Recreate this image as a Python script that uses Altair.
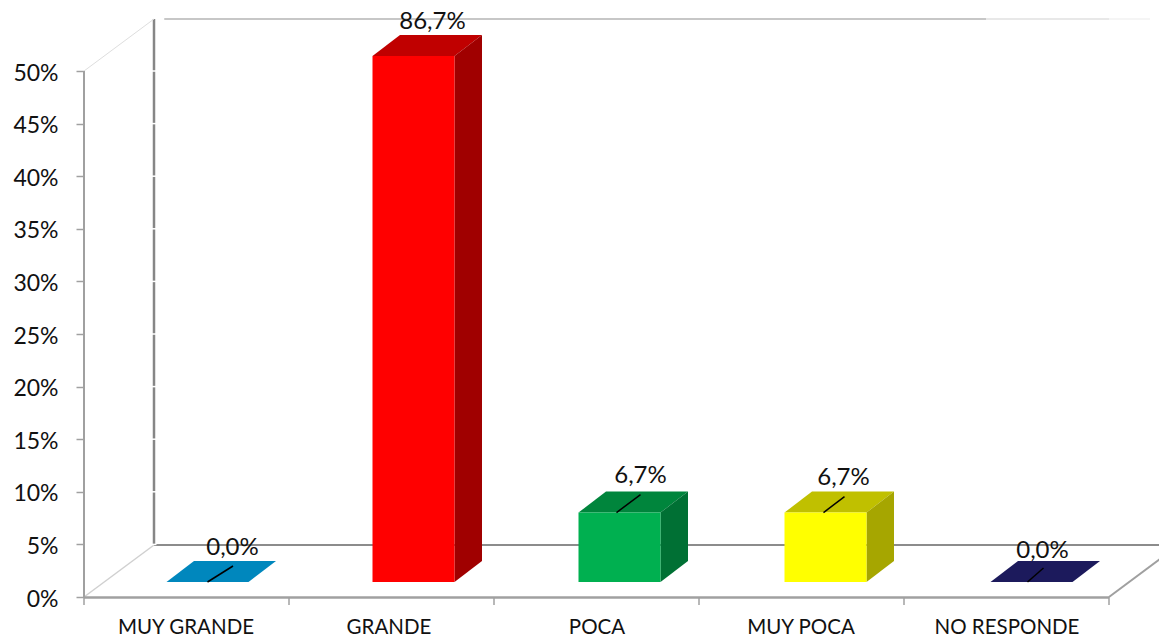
import altair as alt
import pandas as pd

# ---- data ----
categories = ["MUY GRANDE", "GRANDE", "POCA", "MUY POCA", "NO RESPONDE"]
label_values = [0.0, 86.7, 6.7, 6.7, 0.0]
drawn_heights = [0.0, 50.0, 6.6, 6.6, 0.0]   # bars are cut off at the axis maximum
y_ticks = [0, 5, 10, 15, 20, 25, 30, 35, 40, 45, 50]
front_colors = ["#0087BD", "#FF0000", "#00B050", "#FFFF00", "#1C1A5C"]
top_colors = ["#0087BD", "#C00000", "#00853C", "#C0C000", "#1C1A5C"]
side_colors = ["#0087BD", "#A00000", "#007034", "#A6A600", "#1C1A5C"]

# ---- layout ----
W, H = 1151, 630
PX_U, PX_Y = 205.0, 10.52
X0, Y0 = 84.0 - 8, 597.0 - 8
U_MIN, U_MAX = -X0 / PX_U, (W - X0) / PX_U
Y_MAX, Y_MIN = Y0 / PX_Y, (Y0 - H) / PX_Y
WALL_U, WALL_Y = 70 / PX_U, 52 / PX_Y
DEPTH_U, DEPTH_Y = 27.5 / PX_U, 21 / PX_Y
BAR_W, BAR_PITCH, BAR_START, BAR_BASE = 82 / PX_U, 206 / PX_U, 82.5 / PX_U, 15 / PX_Y
# label nudges in px, relative to the bar's front-top centre
label_dx = [25, 19, 21, 18, 11]
label_dy = [34, 34, 37, 35, 31]
leader_start = [0, None, -3, -2, -4]
leader_dx = [25.5, None, 24, 21, 16]
leader_dy = [16, None, 18, 16, 14]
# category label nudges in px
cat_nudge = [-1, -3, 0, -1, 0]

xs = alt.Scale(domain=[U_MIN, U_MAX], nice=False, zero=False)
ys = alt.Scale(domain=[Y_MIN, Y_MAX], nice=False, zero=False)
X = lambda f, **k: alt.X(f, type="quantitative", scale=xs, title=None, **k)
Y = lambda f, **k: alt.Y(f, type="quantitative", scale=ys, title=None, **k)

# ---- frame ----
seg = []
def add(u1, y1, u2, y2, c, w):
    seg.append(dict(u=u1, y=y1, u2=u2, y2=y2, c=c, w=w))

add(WALL_U, WALL_Y, WALL_U, 50 + WALL_Y, "#868686", 2.5)
add(WALL_U, WALL_Y, U_MAX, WALL_Y, "#8C8C8C", 2)
add(WALL_U + 0.05, 50 + WALL_Y, 4.4, 50 + WALL_Y, "#B4B4B4", 1.5)
add(4.4, 50 + WALL_Y, 5.0, 50 + WALL_Y, "#E0E0E0", 1.5)
add(5.0, 50 + WALL_Y, 5.2, 50 + WALL_Y, "#F2F2F2", 1.5)
add(0, 50, WALL_U, 50 + WALL_Y, "#DEDEDE", 1)
add(0, 0, WALL_U, WALL_Y, "#D0D0D0", 1.5)
for t in y_ticks:
    add(WALL_U - 0.012, t, WALL_U + 0.012, t, "#FFFFFF", 1.5)
add(0, 0, 0, 50, "#A0A0A0", 2)
add(0, -0.05, 5, -0.05, "#A0A0A0", 2.5)
add(5, 0, 5 + WALL_U, WALL_Y, "#A0A0A0", 2)
for i in range(6):
    add(i, 0, i, -0.75, "#A0A0A0", 1.5)
seg_df = pd.DataFrame(seg)

frame = alt.Chart(seg_df).mark_rule().encode(
    x=X("u"), x2=alt.X2("u2"), y=Y("y"), y2=alt.Y2("y2"),
    color=alt.Color("c:N", scale=None),
    strokeWidth=alt.StrokeWidth("w:Q", scale=None),
)

# ---- bars ----
front, top, side, labels, leaders = [], [], [], [], []
for i, (cat, v, h) in enumerate(zip(categories, label_values, drawn_heights)):
    l = BAR_START + i * BAR_PITCH
    r = l + BAR_W
    b = BAR_BASE
    t = b + h
    front.append(dict(cat=cat, l=l, r=r, b=b, t=t, c=front_colors[i]))
    top.append(dict(cat=cat, y=t, l=l, r=r, c=top_colors[i]))
    top.append(dict(cat=cat, y=t + DEPTH_Y, l=l + DEPTH_U, r=r + DEPTH_U, c=top_colors[i]))
    if h > 0:
        side.append(dict(cat=cat, u=r, b=b, t=t, c=side_colors[i]))
        side.append(dict(cat=cat, u=r + DEPTH_U, b=b + DEPTH_Y, t=t + DEPTH_Y, c=side_colors[i]))
    cx = (l + r) / 2
    labels.append(dict(u=cx + label_dx[i] / PX_U, y=t + label_dy[i] / PX_Y,
                       txt=f"{v:.1f}%".replace(".", ",")))
    if leader_start[i] is not None:
        s = cx + leader_start[i] / PX_U
        leaders.append(dict(u=s, y=t, u2=s + leader_dx[i] / PX_U, y2=t + leader_dy[i] / PX_Y))

front_l = alt.Chart(pd.DataFrame(front)).mark_rect().encode(
    x=X("l"), x2=alt.X2("r"), y=Y("b"), y2=alt.Y2("t"),
    color=alt.Color("c:N", scale=None),
)
top_l = alt.Chart(pd.DataFrame(top)).mark_area(orient="horizontal").encode(
    y=Y("y"), x=X("l"), x2=alt.X2("r"),
    color=alt.Color("c:N", scale=None),
    detail="cat:N",
)
side_l = alt.Chart(pd.DataFrame(side)).mark_area(orient="vertical").encode(
    x=X("u"), y=Y("b"), y2=alt.Y2("t"),
    color=alt.Color("c:N", scale=None),
    detail="cat:N",
)
leader_l = alt.Chart(pd.DataFrame(leaders)).mark_rule(color="#000000", strokeWidth=1.5).encode(
    x=X("u"), x2=alt.X2("u2"), y=Y("y"), y2=alt.Y2("y2"),
)
label_l = alt.Chart(pd.DataFrame(labels)).mark_text(
    font="Lato", fontSize=24, color="#111111", align="center", baseline="middle"
).encode(x=X("u"), y=Y("y"), text="txt:N")

# ---- axes ----
cat_pos = [i + 0.5 + cat_nudge[i] / PX_U for i in range(5)]
axis_df = pd.DataFrame({"v": cat_pos, "t": y_ticks[:5]})
names = "[" + ",".join(f"'{c}'" for c in categories) + "]"
axes = alt.Chart(axis_df).mark_point(opacity=0).encode(
    x=alt.X("v", type="quantitative", scale=xs, title=None, axis=alt.Axis(
        values=cat_pos, domain=False, ticks=False, grid=False,
        labelExpr=f"{names}[floor(datum.value)]", labelFont="Lato", labelFontSize=20.5,
        labelColor="#111111", labelPadding=17, offset=-38, labelOverlap=False, labelFlush=False)),
    y=alt.Y("t", type="quantitative", scale=ys, title=None, axis=alt.Axis(
        values=y_ticks, domain=False, grid=False, tickColor="#A0A0A0", tickSize=8, tickWidth=1.5,
        labelExpr="datum.value + '%'", labelFont="Lato", labelFontSize=23, labelOffset=2,
        labelColor="#111111", labelPadding=18, offset=-X0, labelOverlap=False, labelFlush=False)),
)

chart = alt.layer(axes, frame, top_l, side_l, front_l, leader_l, label_l).properties(
    width=W, height=H, padding=0,
    autosize=alt.AutoSizeParams(type="none"), background="#FFFFFF",
).configure_view(stroke=None)

chart.save("out.html", embed_options={"renderer": "svg", "actions": False})
